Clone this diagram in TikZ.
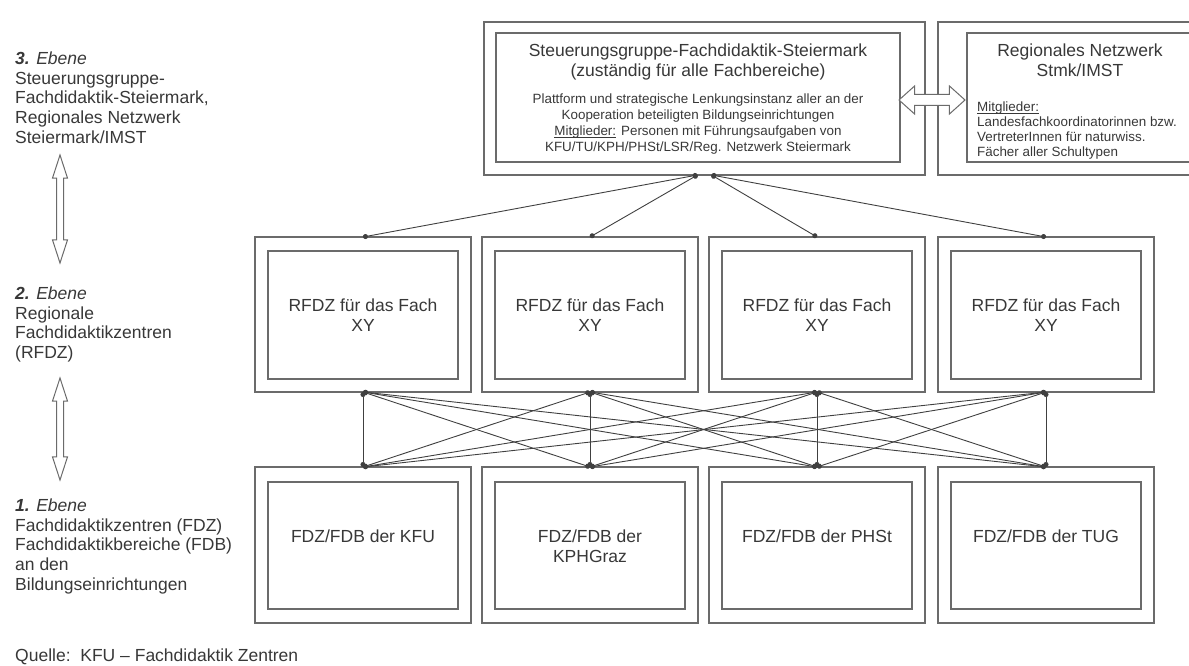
\documentclass[tikz,border=0pt]{standalone}
\usepackage{fontspec}
\setmainfont{Liberation Sans}
\usetikzlibrary{shapes.arrows,arrows.meta}
\definecolor{boxc}{gray}{0.42}
\definecolor{linec}{gray}{0.25}
\definecolor{txtc}{gray}{0.22}
\newcommand{\myul}[1]{\setbox0\hbox{#1}\rlap{\rule[-1.6pt]{\wd0}{0.6pt}}#1}
\begin{document}
\begin{tikzpicture}[x=1pt,y=-1pt,
  frame/.style={draw=boxc, line width=1.5pt, inner sep=0pt, outer sep=0pt},
  bigtxt/.style={text=txtc, inner sep=0pt, align=center, font=\fontsize{17.5}{20}\selectfont},
  smalltxt/.style={text=txtc, inner sep=0pt, font=\fontsize{13.4}{16}\selectfont},
  lefttxt/.style={text=txtc, inner sep=0pt, align=left, anchor=north west, font=\fontsize{17.5}{19.7}\selectfont},
  conn/.style={draw=linec, line width=0.9pt, arrows={Circle[length=5pt]-Circle[length=5pt]}},
  hollowarrow/.style={double arrow, draw=boxc, line width=1pt, fill=white, inner xsep=0pt},
  vlevel/.style={hollowarrow, inner ysep=3pt, double arrow head extend=4pt, double arrow tip angle=36, rotate=90}
]
\useasboundingbox (0,0) rectangle (1189,666);
\clip (0,0) rectangle (1189,666);

% ---- left labels ----
\node[lefttxt] (l3) at (15,51.5) {\textbf{\textit{3.}} \textit{Ebene}\\Steuerungsgruppe-\\Fachdidaktik-Steiermark,\\Regionales Netzwerk\\Steiermark/IMST};
\node[lefttxt] (l2) at (15,286.5) {\textbf{\textit{2.}} \textit{Ebene}\\Regionale\\Fachdidaktikzentren\\(RFDZ)};
\node[lefttxt] (l1) at (15,498.5) {\textbf{\textit{1.}} \textit{Ebene}\\Fachdidaktikzentren (FDZ)\\Fachdidaktikbereiche (FDB)\\an den\\Bildungseinrichtungen};
\node[lefttxt] (src) at (15,648.5) {Quelle:\ \ KFU -- Fachdidaktik Zentren};

\node[vlevel, minimum height=108pt] (va1) at (60,209) {};
\node[vlevel, minimum height=102pt] (va2) at (60,429) {};

% ---- top level ----
\node[frame, minimum width=441pt, minimum height=153pt] (top) at (704.5,98.5) {};
\node[frame, minimum width=404pt, minimum height=129pt] (topi) at (698,97.5) {};
\node[bigtxt, anchor=north] (toptitle) at (698,43.5) {Steuerungsgruppe-Fachdidaktik-Steiermark\\(zuständig für alle Fachbereiche)};
\node[smalltxt, align=center, anchor=north] (topsmall) at (698,94) {Plattform und strategische Lenkungsinstanz aller an der\\Kooperation beteiligten Bildungseinrichtungen\\\myul{Mitglieder:} Personen mit Führungsaufgaben von\\KFU/TU/KPH/PHSt/LSR/Reg. Netzwerk Steiermark};

\node[frame, minimum width=262pt, minimum height=153pt] (net) at (1069,98.5) {};
\node[frame, minimum width=240pt, minimum height=129pt] (neti) at (1087,97.5) {};
\node[bigtxt, anchor=north] (nettitle) at (1080,43.5) {Regionales Netzwerk\\Stmk/IMST};
\node[smalltxt, align=left, anchor=north west, font=\fontsize{13.4}{15}\selectfont] (netsmall) at (977,102) {\myul{Mitglieder:}\\Landesfachkoordinatorinnen bzw.\\VertreterInnen für naturwiss.\\Fächer aller Schultypen};

\node[hollowarrow, inner ysep=5pt, double arrow head extend=8.5pt, double arrow tip angle=84, minimum height=66pt] (harrow) at (932,100) {};

% ---- middle level (RFDZ) ----
\foreach \i/\cx in {1/363,2/590,3/817,4/1046}{
  \node[frame, minimum width=216pt, minimum height=155pt] (m\i) at (\cx,314.5) {};
  \node[frame, bigtxt, minimum width=190pt, minimum height=128pt] (m\i i) at (\cx,315) {RFDZ für das Fach\\XY};
}

% ---- bottom level (FDZ/FDB) ----
\foreach \i/\cx in {1/363,2/590,3/817,4/1046}{
  \node[frame, minimum width=216pt, minimum height=156pt] (b\i) at (\cx,545) {};
  \node[frame, minimum width=190pt, minimum height=127pt] (b\i i) at (\cx,545.5) {};
}
\node[bigtxt, anchor=north] (b1t) at (363,529.5) {FDZ/FDB der KFU};
\node[bigtxt, anchor=north] (b2t) at (590,529.5) {FDZ/FDB der\\KPHGraz};
\node[bigtxt, anchor=north] (b3t) at (817,529.5) {FDZ/FDB der PHSt};
\node[bigtxt, anchor=north] (b4t) at (1046,529.5) {FDZ/FDB der TUG};

% ---- connectors ----
\coordinate (tl) at ([xshift=-7pt]top.south);
\coordinate (tr) at ([xshift=7pt]top.south);
\draw[conn] (tl) -- (m1.north);
\draw[conn] (tl) -- (m2.north);
\draw[conn] (tr) -- (m3.north);
\draw[conn] (tr) -- (m4.north);

\foreach \i in {1,...,4}{
  \foreach \j in {1,...,4}{
    \draw[conn] (m\i.south) -- (b\j.north);
  }
}
\end{tikzpicture}
\end{document}
